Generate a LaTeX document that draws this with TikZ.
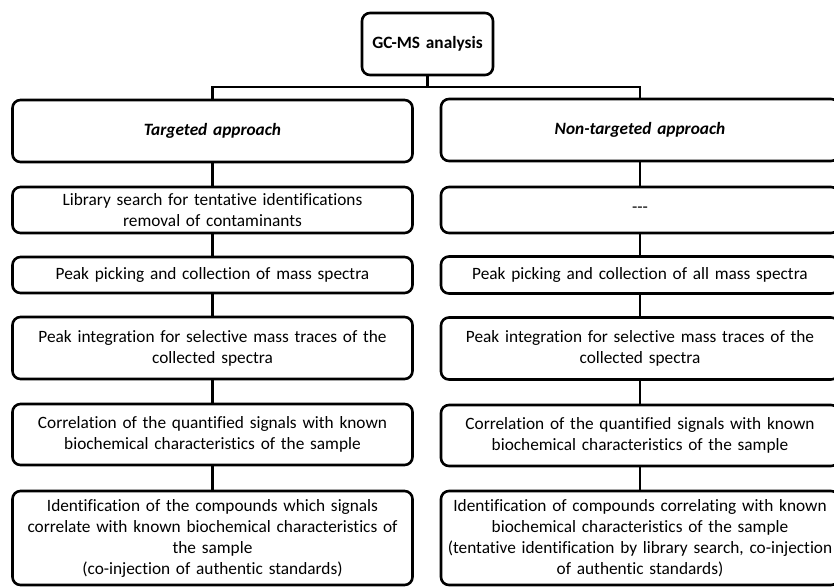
\documentclass[tikz,border=0pt]{standalone}
\usepackage{fontspec}
\setmainfont[Ligatures={NoCommon,TeX}]{Carlito}
\begin{document}
\begin{tikzpicture}[x=1pt,y=-1pt,
  txt/.style={font=\fontsize{17.3}{21}\selectfont},
  box/.style={draw, line width=2.6pt, rounded corners=8pt, align=center, inner sep=0pt, txt},
  lbox/.style={box, minimum width=400pt, text width=394pt},
  rbox/.style={box, minimum width=398pt, text width=394pt},
  conn/.style={line width=2.6pt}]
\useasboundingbox (0,0) rectangle (834,587);
\clip (0,0) rectangle (834,587);
\node[box, minimum width=131pt, minimum height=62pt, text width=125pt, font=\fontsize{17.3}{21}\selectfont\bfseries] (top) at (427.5,44) {GC-MS analysis};
% left column
\node[lbox, minimum height=62pt, font=\fontsize{17.3}{21}\selectfont\bfseries\itshape] (T) at (212.5,131) {Targeted approach};
\node[lbox, minimum height=46pt] (L1) at (212.5,210) {Library search for tentative identifications\\removal of contaminants};
\node[lbox, minimum height=36pt] (L2) at (212.5,275) {Peak picking and collection of mass spectra};
\node[lbox, minimum height=62pt] (L3) at (212.5,348) {Peak integration for selective mass traces of the\\collected spectra};
\node[lbox, minimum height=61pt] (L4) at (212.5,434.5) {Correlation of the quantified signals with known\\biochemical characteristics of the sample};
\node[lbox, minimum height=94pt] (L5) at (212.5,538) {Identification of the compounds which signals\\correlate with known biochemical characteristics of\\the sample\\(co-injection of authentic standards)};
% right column
\node[rbox, minimum height=62pt, font=\fontsize{17.3}{21}\selectfont\bfseries\itshape] (N) at (640,130) {Non-targeted approach};
\node[rbox, minimum height=46pt] (R1) at (640,210) {{-}{-}{-}};
\node[rbox, minimum height=37pt] (R2) at (640,275) {Peak picking and collection of all mass spectra};
\node[rbox, minimum height=62pt] (R3) at (640,348.5) {Peak integration for selective mass traces of the\\collected spectra};
\node[rbox, minimum height=61pt] (R4) at (640,435.5) {Correlation of the quantified signals with known\\biochemical characteristics of the sample};
\node[rbox, minimum height=94pt] (R5) at (640,538) {Identification of compounds correlating with known\\biochemical characteristics of the sample\\(tentative identification by library search, co-injection\\of authentic standards)};
\coordinate (hub) at (427.5,87);
\draw[conn] (top.south) -- (top.south |- hub);
\draw[conn] (T.north) -- (T.north |- hub) -- (N.north |- hub) -- (N.north);
\foreach \a/\b in {T/L1,L1/L2,L2/L3,L3/L4,L4/L5,N/R1,R1/R2,R2/R3,R3/R4,R4/R5}
  \draw[conn] (\a.south) -- (\b.north);
\end{tikzpicture}
\end{document}
